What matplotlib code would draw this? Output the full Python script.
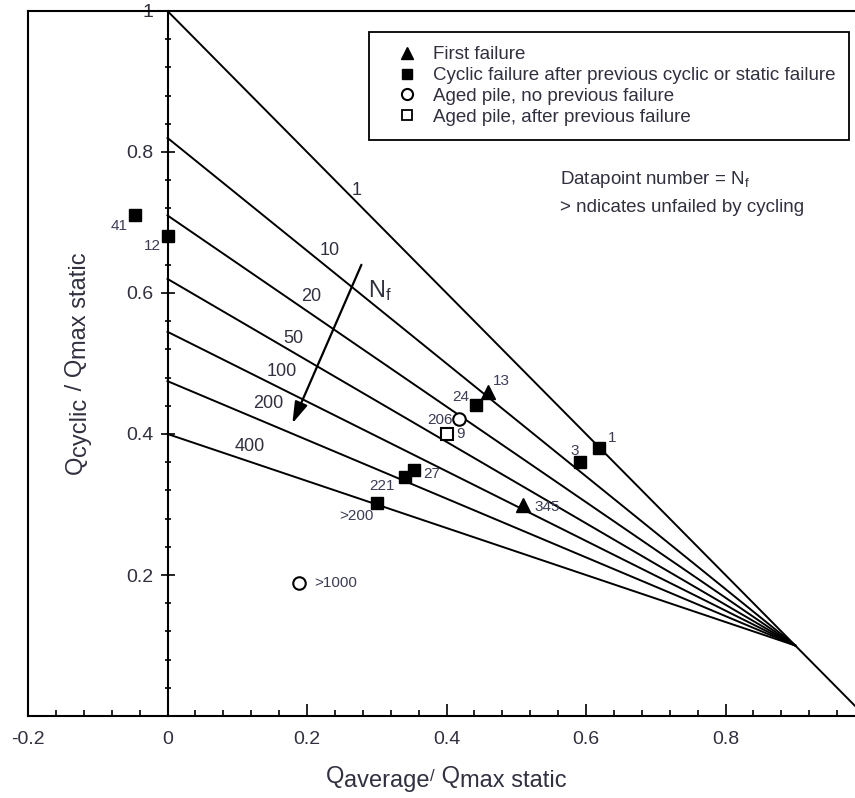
import matplotlib
matplotlib.use('Agg')
import matplotlib.pyplot as plt
from matplotlib.lines import Line2D
from matplotlib.ticker import MultipleLocator

plt.rcParams['font.family'] = ['Liberation Sans', 'DejaVu Sans']
plt.rcParams['mathtext.fontset'] = 'custom'
plt.rcParams['mathtext.rm'] = 'Liberation Sans'
plt.rcParams['mathtext.it'] = 'Liberation Sans:italic'

# ---- data ----
# N_f contours: start value at Qaverage = 0, all meet at (0.9, 0.1)
curve_labels = ['1', '10', '20', '50', '100', '200', '400']
curve_start = [1.0, 0.82, 0.71, 0.62, 0.545, 0.475, 0.40]
focus = (0.9, 0.1)
curve_label_x = [0.271, 0.233, 0.206, 0.180, 0.164, 0.145, 0.118]
curve_label_y = [0.746, 0.660, 0.595, 0.535, 0.488, 0.443, 0.382]

# first failure (filled triangles)
first_x = [0.46, 0.51]
first_y = [0.46, 0.30]
first_n = ['13', '345']

# cyclic failure after previous failure (filled squares)
cyclic_x = [-0.047, 0.0, 0.442, 0.619, 0.591, 0.353, 0.341, 0.301]
cyclic_y = [0.711, 0.681, 0.441, 0.380, 0.360, 0.349, 0.339, 0.302]
cyclic_n = ['41', '12', '24', '1', '3', '27', '221', '>200']

# aged pile, no previous failure (open circles)
aged_x = [0.418, 0.189]
aged_y = [0.421, 0.189]
aged_n = ['206', '>1000']

# aged pile, after previous failure (open squares)
aged_prev_x = [0.401]
aged_prev_y = [0.400]
aged_prev_n = ['9']

x_tick_labels = ['-0.2', '0', '0.2', '0.4', '0.6', '0.8']
y_tick_labels = ['0.2', '0.4', '0.6', '0.8', '1']

legend_labels = ['First failure',
                 'Cyclic failure after previous cyclic or static failure',
                 'Aged pile, no previous failure',
                 'Aged pile, after previous failure']

# label offsets (points) for the point numbers
first_off = [(9.5, 8), (17, -1.5)]
cyclic_off = [(-11, -8), (-11, -7), (-11, 6), (9.5, 7.5), (-3.5, 8),
              (13, -3), (-16.5, -6.5), (-15, -9.5)]
aged_off = [(-14, -0.5), (26, 0)]
aged_prev_off = [(9.5, 0)]

txt_col = '#30303f'
num_col = '#3c3c55'

fig = plt.figure(figsize=(8.55, 7.98), dpi=100)
ax = fig.add_axes([28 / 855, 82 / 798, 837 / 855, 705 / 798])
ax.set_xlim(-0.2, 1.0)
ax.set_ylim(0, 1)

# contour lines
for lab, y0 in zip(curve_labels, curve_start):
    if lab == '1':
        ax.plot([0, 1.0], [y0, 0.0], color='black', lw=1.4)
    else:
        ax.plot([0, focus[0]], [y0, focus[1]], color='black', lw=1.4)
for lab, lx, ly in zip(curve_labels, curve_label_x, curve_label_y):
    ax.text(lx, ly, lab, fontsize=13, color=txt_col, ha='center', va='center')

# arrow showing increasing N_f
ax.annotate('', xy=(0.179, 0.415), xytext=(0.278, 0.640),
            arrowprops=dict(arrowstyle='-|>,head_length=0.65,head_width=0.2',
                            color='black', lw=1.6,
                            mutation_scale=20, shrinkA=0, shrinkB=0))
ax.text(0.304, 0.604, r'N$_\mathrm{f}$', fontsize=17, color=txt_col,
        ha='center', va='center')

# data points
ax.plot(first_x, first_y, '^', color='black', ms=9.5, ls='none')
ax.plot(cyclic_x, cyclic_y, 's', color='black', ms=8.5, ls='none')
ax.plot(aged_x, aged_y, 'o', mfc='white', mec='black', mew=1.5, ms=9, ls='none')
ax.plot(aged_prev_x, aged_prev_y, 's', mfc='white', mec='black', mew=1.5,
        ms=8, ls='none')

for xs, ys, ns, offs in [(first_x, first_y, first_n, first_off),
                         (cyclic_x, cyclic_y, cyclic_n, cyclic_off),
                         (aged_x, aged_y, aged_n, aged_off),
                         (aged_prev_x, aged_prev_y, aged_prev_n, aged_prev_off)]:
    for x, y, n, off in zip(xs, ys, ns, offs):
        ax.annotate(n, (x, y), xytext=off, textcoords='offset points',
                    fontsize=11, color=num_col, ha='center', va='center')

# spines / frame
ax.spines['left'].set_position(('data', 0))
ax.spines['right'].set_visible(False)
for s in ['left', 'top', 'bottom']:
    ax.spines[s].set_linewidth(1.5)
ax.axvline(-0.2, color='black', lw=1.5, clip_on=False)

ax.set_xticks([float(t) for t in x_tick_labels], labels=x_tick_labels)
ax.set_yticks([float(t) for t in y_tick_labels], labels=y_tick_labels)
ax.xaxis.set_minor_locator(MultipleLocator(0.04))
ax.yaxis.set_minor_locator(MultipleLocator(0.04))
ax.tick_params(axis='x', which='major', direction='in', length=9, width=1.2,
               pad=11, labelsize=14, labelcolor=txt_col)
ax.tick_params(axis='x', which='minor', direction='in', length=4.5, width=1.2)
ax.tick_params(axis='y', which='major', direction='inout', length=10.5,
               width=1.2, pad=5, labelsize=14, labelcolor=txt_col)
ax.tick_params(axis='y', which='minor', direction='inout', length=5, width=1.2)


# axis labels built piece by piece so the subscripts keep full size
def chain(x_px, y_px, parts, rotation=0):
    if rotation == 0:
        prev = fig.text(x_px / 855, 1 - y_px / 798, parts[0][0],
                        fontsize=parts[0][1], color=txt_col,
                        ha='left', va='baseline')
    else:
        prev = fig.text(x_px / 855, 1 - y_px / 798, parts[0][0],
                        fontsize=parts[0][1], color=txt_col, rotation=90,
                        rotation_mode='anchor', ha='left', va='baseline')
    shift = parts[0][2]
    for text, size, sh in parts[1:]:
        d = sh - shift
        if rotation == 0:
            prev = ax.annotate(text, xy=(1, 0), xycoords=prev, xytext=(0, -d),
                               textcoords='offset points', fontsize=size,
                               color=txt_col, ha='left', va='bottom',
                               annotation_clip=False)
        else:
            prev = ax.annotate(text, xy=(1, 1), xycoords=prev, xytext=(d, 0),
                               textcoords='offset points', fontsize=size,
                               color=txt_col, ha='right', va='bottom',
                               rotation=90, annotation_clip=False)
        shift = sh


chain(326, 783, [('Q', 17, 0), ('average', 17, 3), ('/', 12, -3),
                 (' Q', 17, 0), ('max static', 17, 3)])
chain(82, 474, [('Q', 17, 0), ('cyclic', 17, 3), (' / Q', 17, 0),
                ('max static', 17, 3)], rotation=90)

# legend
handles = [Line2D([], [], marker='^', color='black', ls='none', ms=8),
           Line2D([], [], marker='s', color='black', ls='none', ms=7.5),
           Line2D([], [], marker='o', mfc='white', mec='black', mew=1.5,
                  ls='none', ms=8),
           Line2D([], [], marker='s', mfc='white', mec='black', mew=1.3,
                  ls='none', ms=7)]
leg = ax.legend(handles, legend_labels, loc='upper left',
                bbox_to_anchor=(369 / 855, 1 - 32 / 798),
                bbox_transform=fig.transFigure, borderaxespad=0,
                fontsize=13.5, frameon=True, fancybox=False, framealpha=1,
                edgecolor='black', borderpad=0.75, labelspacing=0.2,
                handlelength=2.5, handletextpad=0.15)
leg.get_frame().set_linewidth(1.3)
for t in leg.get_texts():
    t.set_color(txt_col)

fig.text(560 / 855, 1 - 180 / 798, r'Datapoint number = N$_\mathrm{f}$',
         fontsize=13.5, color=txt_col, ha='left', va='center')
fig.text(560 / 855, 1 - 207 / 798, '> ndicates unfailed by cycling',
         fontsize=13.5, color=txt_col, ha='left', va='center')

fig.savefig('out.png', dpi=100)
